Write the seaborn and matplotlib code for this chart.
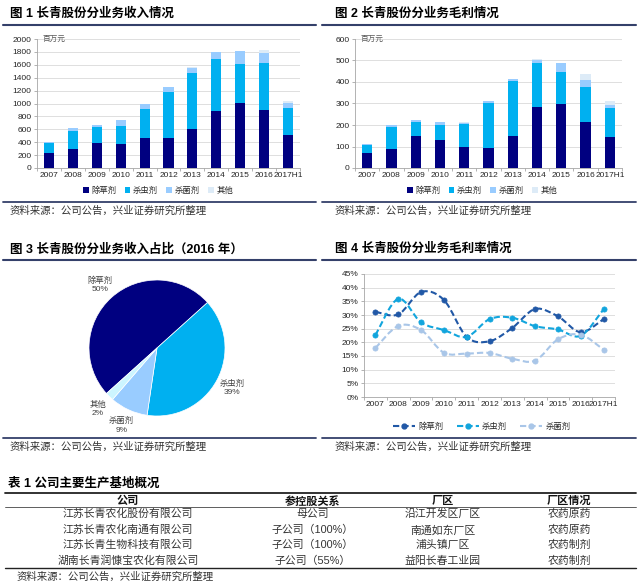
import numpy as np
import pandas as pd
import matplotlib
matplotlib.use('Agg')
import matplotlib.pyplot as plt
import seaborn as sns
from matplotlib.path import Path
from matplotlib.patches import PathPatch, Patch
from matplotlib.lines import Line2D

# ---- dane ----
years = ['2007', '2008', '2009', '2010', '2011', '2012', '2013', '2014', '2015', '2016', '2017H1']
segments = ['除草剂', '杀虫剂', '杀菌剂', '其他']

# przychody (百万元)
rev_herb = [240, 295, 385, 365, 470, 460, 600, 885, 1010, 900, 510]
rev_insect = [140, 285, 250, 290, 440, 720, 880, 810, 595, 725, 420]
rev_fungi = [25, 35, 30, 85, 75, 75, 70, 100, 205, 165, 80]
rev_other = [5, 5, 5, 5, 5, 5, 10, 10, 10, 35, 35]

# zysk brutto (百万元)
gp_herb = [72, 88, 148, 130, 100, 95, 150, 283, 297, 213, 145]
gp_insect = [33, 104, 67, 70, 103, 205, 255, 207, 148, 162, 135]
gp_fungi = [5, 8, 7, 13, 7, 10, 8, 13, 42, 35, 12]
gp_other = [2, 2, 3, 2, 3, 3, 2, 3, 2, 25, 18]

# udzial 2016 (%)
share_2016 = [50, 39, 9, 2]

# marza (%)
margin_segments = ['除草剂', '杀虫剂', '杀菌剂']
margin_herb = [31.2, 30.2, 38.4, 35.5, 22.0, 20.4, 25.3, 32.2, 29.5, 23.7, 28.5]
margin_insect = [22.6, 35.9, 27.3, 24.5, 22.0, 28.5, 29.0, 25.9, 24.7, 22.4, 32.1]
margin_fungi = [17.9, 26.0, 24.5, 16.2, 15.9, 16.1, 14.0, 13.3, 21.1, 22.8, 17.3]

# tabela
tbl_header = ['公司', '参控股关系', '厂区', '厂区情况']
tbl_company = ['江苏长青农化股份有限公司', '江苏长青农化南通有限公司',
               '江苏长青生物科技有限公司', '湖南长青润慷宝农化有限公司']
tbl_relation = ['母公司', '子公司（100%）', '子公司（100%）', '子公司（55%）']
tbl_site = ['沿江开发区厂区', '南通如东厂区', '浦头镇厂区', '益阳长春工业园']
tbl_status = ['农药原药', '农药原药', '农药制剂', '农药制剂']

source = '资料来源：公司公告，兴业证券研究所整理'

# ---- styl ----
seg_colors = ['#000080', '#00B0F0', '#99CCFF', '#DDEBF7']
pie_colors = ['#000080', '#00B0F0', '#99CCFF', '#CCF5FF']
line_colors = ['#2158A6', '#12A5DD', '#A9C6E8']
RULE = '#34406A'
AXC = '#A6A6A6'
GRID = '#D9D9D9'

sns.set_theme(style='white')
plt.rcParams['font.family'] = ['Liberation Sans', 'Noto Sans CJK SC']
plt.rcParams['axes.unicode_minus'] = False

fig = plt.figure(figsize=(6.4, 5.88), dpi=100)


def ax_px(x0, y0, x1, y1):
    return fig.add_axes([x0 / 640, 1 - y1 / 588, (x1 - x0) / 640, (y1 - y0) / 588])


def hrule(x0, x1, y, lw=1.5, color=RULE):
    fig.add_artist(Line2D([x0 / 640, x1 / 640], [1 - y / 588] * 2,
                          transform=fig.transFigure, color=color, lw=lw))


def ftext(x, y, s, **kw):
    kw.setdefault('va', 'center')
    fig.text(x / 640, 1 - y / 588, s, **kw)


def panel_frame(x0, x1, tx, title, y_title, y_rule, y_rule2, y_src):
    ftext(tx, y_title, title, fontsize=9, weight='bold', color='black')
    hrule(x0, x1, y_rule)
    hrule(x0, x1, y_rule2, lw=1.3)
    ftext(tx, y_src, source, fontsize=7.5, color='#333333')


def bar_panel(ax, parts, ymax, step):
    cum = np.cumsum(np.array(parts), axis=0)
    # od najwyzszej skumulowanej do najnizszej
    for i in reversed(range(len(segments))):
        sns.barplot(x=years, y=cum[i], color=seg_colors[i], width=0.42,
                    saturation=1, linewidth=0, ax=ax, zorder=2)
    ax.set_ylim(0, ymax)
    ax.set_yticks(np.arange(0, ymax + 1, step))
    ax.set_xlim(-0.5, len(years) - 0.5)
    ax.yaxis.grid(True, color=GRID, lw=0.6)
    ax.set_axisbelow(True)
    for s in ['top', 'right']:
        ax.spines[s].set_visible(False)
    for s in ['left', 'bottom']:
        ax.spines[s].set_color(AXC)
        ax.spines[s].set_linewidth(0.6)
    ax.tick_params(axis='y', labelsize=6, length=2.5, width=0.6, color=AXC, pad=1.5, left=True)
    ax.tick_params(axis='x', which='major', labelsize=6, length=0, pad=3)
    ax.set_xticks(np.arange(-0.5, len(years), 1), minor=True)
    ax.tick_params(axis='x', which='minor', length=2.5, width=0.6, color=AXC, bottom=True)
    ax.set_xlabel('')
    ax.set_ylabel('')
    ax.text(0.02, 1.0, '百万元', transform=ax.transAxes, fontsize=5.5,
            color='#595959', va='center', ha='left')


# ---- wykres 1 ----
panel_frame(3, 316, 10, '图 1 长青股份分业务收入情况', 14, 25, 202, 211)
ax1 = ax_px(37, 39, 300, 168)
bar_panel(ax1, [rev_herb, rev_insect, rev_fungi, rev_other], 2000, 200)

# ---- wykres 2 ----
panel_frame(322, 636, 335, '图 2 长青股份分业务毛利情况', 14, 25, 202, 211)
ax2 = ax_px(355, 39, 622, 168)
bar_panel(ax2, [gp_herb, gp_insect, gp_fungi, gp_other], 600, 100)

bar_handles = [Patch(facecolor=c, edgecolor='none') for c in seg_colors]
for cx in [158, 482]:
    fig.legend(bar_handles, segments, loc='center', bbox_to_anchor=(cx / 640, 1 - 191 / 588),
               ncol=4, frameon=False, fontsize=6, handlelength=0.7, handleheight=0.7,
               handletextpad=0.3, columnspacing=1.0)

# ---- wykres 3 ----
panel_frame(3, 316, 10, '图 3 长青股份分业务收入占比（2016 年）', 249, 260, 438, 447)
ax3 = ax_px(157 - 68, 348 - 68, 157 + 68, 348 + 68)
pie_labels = [f'{n}\n{v}%' for n, v in zip(segments, share_2016)]
ax3.pie(share_2016, labels=pie_labels, colors=pie_colors, startangle=222, counterclock=False,
        labeldistance=1.25, wedgeprops=dict(edgecolor='white', linewidth=0.5),
        textprops=dict(fontsize=6, color='#404040', ha='center', linespacing=1.3))
ax3.set_xlim(-1, 1)
ax3.set_ylim(-1, 1)


# ---- wykres 4 ----
def smooth_path(xs, ys):
    pts = np.column_stack([xs, ys]).astype(float)
    n = len(pts)
    verts = [pts[0]]
    codes = [Path.MOVETO]
    for i in range(n - 1):
        p0 = pts[i - 1] if i > 0 else pts[i]
        p1, p2 = pts[i], pts[i + 1]
        p3 = pts[i + 2] if i + 2 < n else pts[i + 1]
        verts += [p1 + (p2 - p0) / 6, p2 - (p3 - p1) / 6, p2]
        codes += [Path.CURVE4] * 3
    return Path(verts, codes)


panel_frame(322, 636, 335, '图 4 长青股份分业务毛利率情况', 249, 260, 438, 447)
ax4 = ax_px(364, 274, 615, 397)
xs = np.arange(len(years))
dash = (0, (3, 1.5))
for vals, col in zip([margin_herb, margin_insect, margin_fungi], line_colors):
    ax4.add_patch(PathPatch(smooth_path(xs, vals), fill=False, edgecolor=col, lw=1.5,
                            ls=dash, zorder=2))
    sns.scatterplot(x=xs, y=vals, color=col, s=14, edgecolor=col, linewidth=0.5,
                    ax=ax4, zorder=3, legend=False)
ax4.set_xlim(-0.5, len(years) - 0.5)
ax4.set_ylim(0, 45)
ax4.set_yticks(np.arange(0, 46, 5))
ax4.set_yticklabels([f'{v}%' for v in range(0, 46, 5)])
ax4.set_xticks(xs)
ax4.set_xticklabels(years)
ax4.set_xticks(np.arange(-0.5, len(years), 1), minor=True)
ax4.yaxis.grid(True, color=GRID, lw=0.6)
ax4.set_axisbelow(True)
for s in ['top', 'right']:
    ax4.spines[s].set_visible(False)
for s in ['left', 'bottom']:
    ax4.spines[s].set_color(AXC)
    ax4.spines[s].set_linewidth(0.6)
ax4.tick_params(axis='y', labelsize=6, length=2.5, width=0.6, color=AXC, pad=1.5, left=True)
ax4.tick_params(axis='x', which='major', labelsize=6, length=0, pad=3)
ax4.tick_params(axis='x', which='minor', length=2.5, width=0.6, color=AXC, bottom=True)
ax4.set_xlabel('')
ax4.set_ylabel('')

line_handles = [Line2D([0], [0], color=c, lw=1.5, ls=dash, marker='o', markersize=3.5)
                for c in line_colors]
fig.legend(line_handles, margin_segments, loc='center', bbox_to_anchor=(482 / 640, 1 - 427 / 588),
           ncol=3, frameon=False, fontsize=6, handlelength=2.6, handletextpad=0.4,
           columnspacing=1.6)

# ---- tabela ----
ftext(8, 484, '表 1 公司主要生产基地概况', fontsize=9, weight='bold', color='black')
hrule(5, 636, 493, lw=1.3, color='#222222')
hrule(5, 636, 507, lw=0.6, color='#444444')
hrule(5, 636, 568, lw=1.0, color='#222222')
col_x = [128, 313, 443, 569]
row_y = [514, 530, 545, 561]
for cx, h in zip(col_x, tbl_header):
    ftext(cx, 501, h, fontsize=8, weight='bold', ha='center', color='#111111')
for ry, row in zip(row_y, zip(tbl_company, tbl_relation, tbl_site, tbl_status)):
    for cx, cell in zip(col_x, row):
        ftext(cx, ry, cell, fontsize=7.8, ha='center', color='#333333')
ftext(17, 577, source, fontsize=7.5, color='#333333')

fig.savefig('out.png', dpi=100)
